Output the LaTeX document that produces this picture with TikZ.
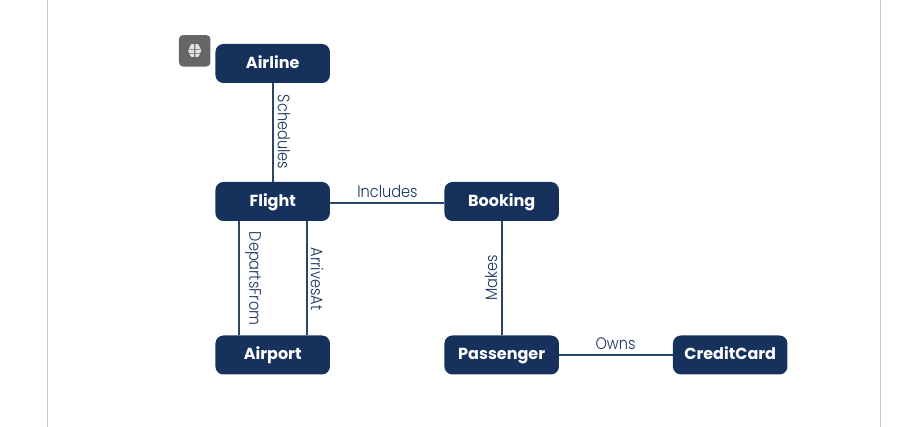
\documentclass[tikz,border=0pt]{standalone}
\usepackage{fontspec}
\setmainfont{Poppins}
\newfontfamily\labfont[FakeStretch=0.88]{Poppins Light}
\definecolor{navy}{HTML}{16325C}
\definecolor{linkblue}{HTML}{2B4569}
\tikzset{
  x=0.75pt,y=-0.75pt,
  entity/.style={draw=none,fill=navy,rounded corners=6pt,minimum width=85.9pt,minimum height=29.25pt,inner sep=0pt,text=white,text height=9pt,text depth=1.6pt,font=\bfseries\fontsize{12pt}{14pt}\selectfont},
  link/.style={draw=linkblue,line width=1.4pt},
  linklabel/.style={text=navy,inner sep=0pt,font=\labfont\fontsize{12.4pt}{14pt}\selectfont},
  frameline/.style={draw=black!22,line width=0.8pt},
}
\begin{document}
\begin{tikzpicture}
\useasboundingbox (0,0) rectangle (897,427);
\coordinate (ft) at (47.5,0); \coordinate (fb) at (47.5,427);
\coordinate (gt) at (880.5,0); \coordinate (gb) at (880.5,427);
\draw[frameline] (ft) -- (fb);
\draw[frameline] (gt) -- (gb);
\node[entity] (airline) at (272.7,63.5) {Airline};
\node[entity] (flight) at (272.7,201.5) {Flight};
\node[entity] (airport) at (272.7,355) {Airport};
\node[entity] (booking) at (501.7,201.5) {Booking};
\node[entity] (passenger) at (501.7,355) {Passenger};
\node[entity] (card) at (730.2,355) {CreditCard};
\draw[link] (airline) -- (flight);
\draw[link] ([yshift=-1.1pt]flight.east) -- ([yshift=-1.1pt]booking.west);
\draw[link] (booking) -- (passenger);
\draw[link] (passenger) -- (card);
\draw[link] ([xshift=-25.5pt]flight.south) -- ([xshift=-25.5pt]airport.north);
\draw[link] ([xshift=25.5pt]flight.south) -- ([xshift=25.5pt]airport.north);
\node[linklabel,rotate=-90] (l1) at (284,132) {Schedules};
\node[linklabel] (l2) at (387.5,191) {Includes};
\node[linklabel,rotate=-90] (l3) at (253,278.5) {DepartsFrom};
\node[linklabel,rotate=-90] (l4) at (317,279) {ArrivesAt};
\node[linklabel,rotate=90] (l5) at (491,278) {Makes};
\node[linklabel] (l6) at (615.5,344) {Owns};
% brain badge
\node[fill=black!60,rounded corners=3pt,minimum size=23.6pt,inner sep=0pt] (badge) at (194.7,50.8) {};
\begin{scope}[shift={(badge.center)}]
  \fill[white!90!black] (-.6,-6.5) .. controls (-3.5,-7.5) and (-5,-5.5) .. (-5,-3.5) .. controls (-7,-2) and (-7,1.5) .. (-5.2,3) .. controls (-5,5.5) and (-3,7.2) .. (-.6,6.2) -- cycle;
  \fill[white!90!black] (.6,-6.5) .. controls (3.5,-7.5) and (5,-5.5) .. (5,-3.5) .. controls (7,-2) and (7,1.5) .. (5.2,3) .. controls (5,5.5) and (3,7.2) .. (.6,6.2) -- cycle;
  \draw[black!45,line width=0.3pt] (-5.5,-1.5) -- (-.6,-1.5) (-5.5,2) -- (-.6,2) (.6,-1.5) -- (5.5,-1.5) (.6,2) -- (5.5,2);
\end{scope}
\end{tikzpicture}
\end{document}
